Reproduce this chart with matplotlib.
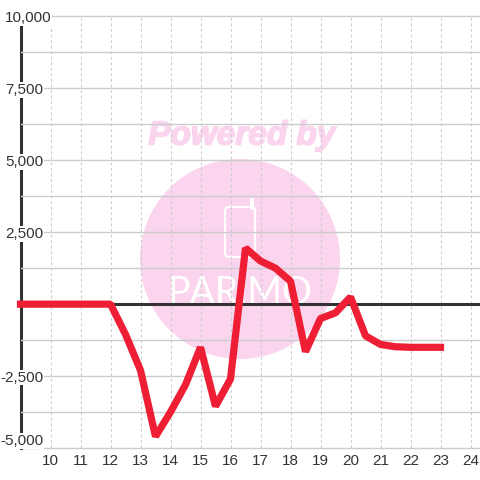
import matplotlib
matplotlib.use("Agg")
import matplotlib.pyplot as plt
import matplotlib.patheffects as pe
from matplotlib.patches import Circle, FancyBboxPatch

hours = [9, 9.5, 10, 10.5, 11, 11.5, 12, 12.5, 13, 13.5, 14, 14.5, 15, 15.5, 16, 16.5,
         17, 17.5, 18, 18.5, 19, 19.5, 20, 20.5, 21, 21.5, 22, 22.5, 23]
values = [0, 0, 0, 0, 0, 0, 0, -1050, -2300, -4600, -3750, -2800, -1500, -3550, -2600, 1950,
          1500, 1250, 800, -1650, -500, -300, 250, -1100, -1400, -1480, -1500, -1500, -1500]
x_ticks = list(range(10, 25))
y_major = [-5000, -2500, 0, 2500, 5000, 7500, 10000]
y_minor = [-3750, -1250, 1250, 3750, 6250, 8750]
y_labels = ["-5,000", "-2,500", "0", "2,500", "5,000", "7,500", "10,000"]

plt.rcParams['font.family'] = ['Liberation Sans', 'DejaVu Sans']
W = H = 480
fig = plt.figure(figsize=(4.8, 4.8), dpi=100, facecolor='white')
ax = fig.add_axes([20.5 / W, 1 - 448 / H, (W - 20.5) / W, (448 - 16.5) / H], facecolor='none')
ax.set_xlim(9, 9 + (W - 20.5) / 30)
ax.set_ylim(-5000, 10000)

# background watermark, placed in figure pixels
bg = fig.add_axes([0, 0, 1, 1], zorder=-1)
bg.set_xlim(0, W); bg.set_ylim(H, 0); bg.axis('off')
bg.add_patch(Circle((240, 259), 100, fc='#FBD5EE', ec='none'))
bg.add_patch(FancyBboxPatch((225, 207), 30, 50, boxstyle='round,pad=0,rounding_size=4', fc='none', ec='white', lw=1.5))
bg.plot([252, 252], [200, 208], color='white', lw=3, solid_capstyle='round')
bg.text(242, 136, 'Powered by', color='#FBD5EE', fontsize=24, fontweight='bold', fontstyle='italic',
        ha='center', va='center', path_effects=[pe.withStroke(linewidth=1.2, foreground='#FBD5EE')])
bg.text(240, 304, 'PARiMO', color='white', fontsize=27, family='Lato', ha='center', va='baseline')

for s in ax.spines.values():
    s.set_visible(False)
ax.spines['left'].set_visible(True)
ax.spines['left'].set_linewidth(2.2)
ax.spines['left'].set_color('#333333')
ax.spines['left'].set_zorder(0.4)
ax.set_axisbelow(True)
ax.set_xticks(x_ticks)
ax.set_xticklabels([str(v) for v in x_ticks])
ax.set_yticks(y_major)
ax.set_yticklabels(y_labels)
ax.set_yticks(y_minor, minor=True)
ax.tick_params(axis='x', length=0, pad=4.5, labelsize=11, labelcolor='#333333')
ax.tick_params(axis='y', which='both', length=0, labelsize=11, labelcolor='#333333')
ax.grid(axis='x', color='#CCCCCC', lw=0.8, ls=(0, (2.5, 2.5)))
ax.grid(axis='y', which='both', color='#CCCCCC', lw=1.0)
for gl in ax.get_ygridlines():
    gl.set_clip_on(False)
for t, val in zip(ax.yaxis.get_major_ticks(), y_major):
    t.set_pad(-22.3 if val == 10000 else -16.5)
    t.label1.set_bbox(dict(facecolor='white', edgecolor='none', pad=0.5))
    if val == 0:
        t.label1.set_visible(False)
    if val == -5000:
        t.label1.set_va('bottom')

ax.axhline(0, color='#333333', lw=2.2, zorder=2, clip_on=False)
ax.plot(hours, values, color='#EE1F35', lw=5.2, solid_joinstyle='bevel', solid_capstyle='projecting', zorder=4, clip_on=False)
fig.savefig('out.png', dpi=100)
